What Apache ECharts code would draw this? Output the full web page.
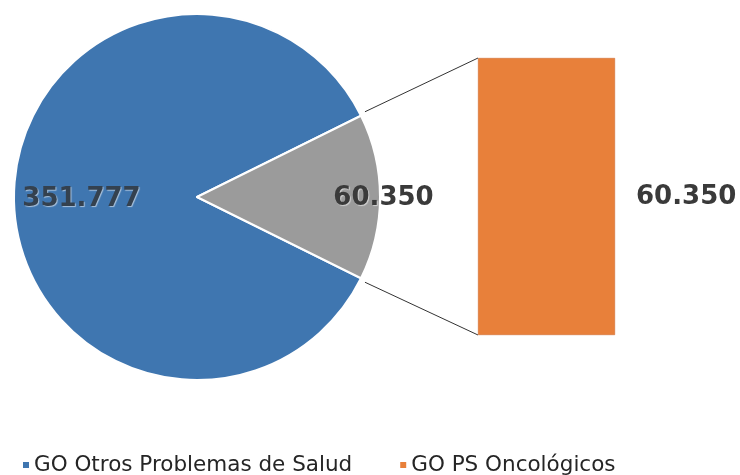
<!DOCTYPE html>
<html>
<head>
<meta charset="utf-8">
<script src="https://cdn.jsdelivr.net/npm/echarts@6/dist/echarts.min.js"></script>
<style>
  html, body { margin: 0; padding: 0; background: #fff; }
  #chart { width: 740px; height: 475px; }
</style>
</head>
<body>
<div id="chart"></div>
<script>
// datos del gráfico
const pieNames = ['GO Otros Problemas de Salud', 'GO PS Oncológicos'];
const pieValues = [351777, 60350];
const barNames = ['GO PS Oncológicos'];
const barValues = [60350];
const pieLabels = ['351.777', '60.350'];
const barLabels = ['60.350'];

// layout
const cx = 197, cy = 197, r = 183;
const barBox = {left: 478, top: 58, width: 137, height: 277};
const FONT = "'DejaVu Sans', sans-serif";

const total = pieValues[0] + pieValues[1];
// centrar el sector gris a la derecha
const startAngle = 360 * (pieValues[0] + pieValues[1] / 2) / total;
const half = Math.PI * pieValues[1] / total;
const ex = cx + r * Math.cos(half);
const eyTop = cy - r * Math.sin(half);
const eyBot = cy + r * Math.sin(half);

const labelFont = {
    fontFamily: FONT,
    fontWeight: 'bold',
    fontSize: 26,
    color: '#3a3a3a',
    textShadowColor: 'rgba(255,255,255,0.55)',
    textShadowBlur: 1,
    textShadowOffsetX: 1,
    textShadowOffsetY: 1
};

const chart = echarts.init(document.getElementById('chart'));
chart.setOption({
    animation: false,
    backgroundColor: '#fff',
    legend: {
        top: 449,
        left: 18,
        itemWidth: 6,
        itemHeight: 6,
        itemGap: 48,
        icon: 'rect',
        itemStyle: {borderWidth: 0},
        data: [
            {name: pieNames[0], itemStyle: {color: '#3f76b0', borderWidth: 0}},
            {name: barNames[0], itemStyle: {color: '#e8803a', borderWidth: 0}}
        ],
        textStyle: {
            fontFamily: FONT,
            fontSize: 21.5,
            color: '#252525'
        }
    },
    grid: {
        left: barBox.left,
        top: barBox.top,
        width: barBox.width,
        height: barBox.height
    },
    xAxis: {
        type: 'category',
        data: barNames,
        show: false
    },
    yAxis: {
        type: 'value',
        min: 0,
        max: barValues[0],
        show: false
    },
    series: [
        {
            type: 'pie',
            center: [cx, cy],
            radius: r,
            startAngle: startAngle,
            clockwise: true,
            labelLine: {show: false},
            itemStyle: {borderColor: '#fff', borderWidth: 2},
            data: [
                {
                    name: pieNames[0],
                    value: pieValues[0],
                    itemStyle: {color: '#3f76b0'},
                    label: {show: true, position: 'inside', formatter: pieLabels[0], offset: [-21, 2], ...labelFont, color: '#34414f'}
                },
                {
                    name: 'resto',
                    value: pieValues[1],
                    itemStyle: {color: '#9b9b9b'},
                    label: {show: true, position: 'inside', formatter: pieLabels[1], offset: [92, 1], ...labelFont}
                }
            ],
            emphasis: {disabled: true}
        },
        {
            type: 'bar',
            name: barNames[0],
            data: barValues,
            barWidth: '100%',
            itemStyle: {color: '#e8803a', borderColor: '#c9652a', borderWidth: 0.5},
            label: {
                show: true,
                position: 'right',
                distance: 21,
                offset: [0, 1],
                formatter: () => barLabels[0],
                ...labelFont
            },
            emphasis: {disabled: true}
        }
    ],
    graphic: [
        {
            type: 'line',
            shape: {x1: ex + 4, y1: eyTop - 4, x2: barBox.left, y2: barBox.top},
            style: {stroke: '#333', lineWidth: 1}
        },
        {
            type: 'line',
            shape: {x1: ex + 4, y1: eyBot + 4, x2: barBox.left, y2: barBox.top + barBox.height},
            style: {stroke: '#333', lineWidth: 1}
        }
    ]
});
</script>
</body>
</html>
